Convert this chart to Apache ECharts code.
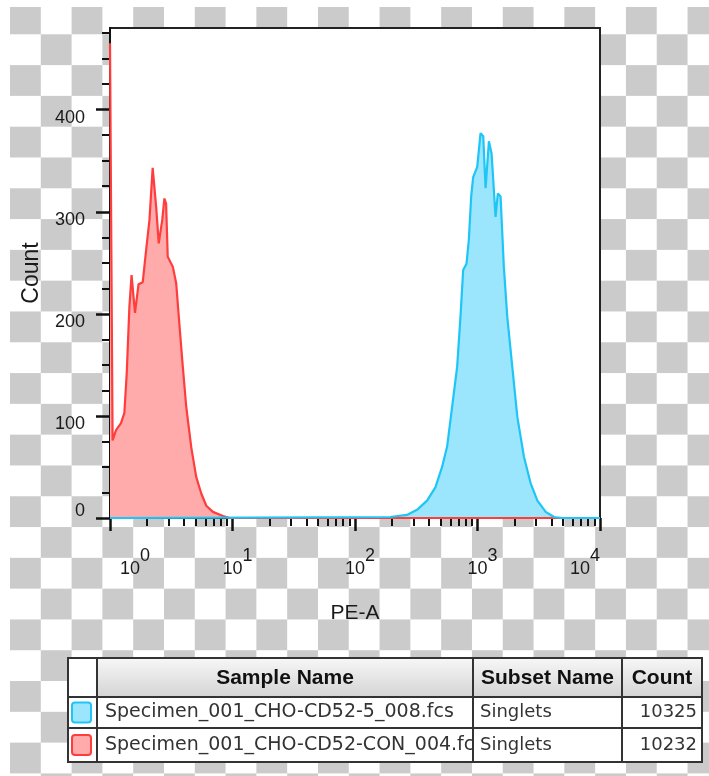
<!DOCTYPE html>
<html>
<head>
<meta charset="utf-8">
<script src="https://cdn.jsdelivr.net/npm/echarts@6/dist/echarts.min.js"></script>
<style>
  html, body { margin: 0; padding: 0; background: #fff; }
  #wrap { position: relative; width: 709px; height: 776px; overflow: hidden; background: #fff; }
  #checker {
    position: absolute; left: 10px; top: 7px; right: 0; bottom: 0;
    background: conic-gradient(#fff 0 25%, #cbcbcb 0 50%, #fff 0 75%, #cbcbcb 0 100%);
    background-size: 61.6px 61.6px;
    background-position: 0 -3.5px;
  }
  #chart { position: absolute; left: 0; top: 0; width: 709px; height: 776px; }
</style>
</head>
<body>
<div id="wrap">
  <div id="checker"></div>
  <div id="chart"></div>
</div>
<script>
// axis ticks
const xTickValues = [1, 10, 100, 1000, 10000];
const xTickExponents = ['0', '1', '2', '3', '4'];
const xMinorTicks = [2, 3, 4, 5, 6, 7, 8, 9, 20, 30, 40, 50, 60, 70, 80, 90,
  200, 300, 400, 500, 600, 700, 800, 900, 2000, 3000, 4000, 5000, 6000, 7000, 8000, 9000];
const yTickValues = [0, 100, 200, 300, 400];
const yMinorTicks = [25, 50, 75, 125, 150, 175, 225, 250, 275, 325, 350, 375, 425, 450, 475];

// histogram: CON sample (red)
const redX = [1, 1.05, 1.12, 1.23, 1.31, 1.37, 1.44, 1.50, 1.60, 1.71,
  1.85, 1.97, 2.10, 2.23, 2.38, 2.50, 2.67, 2.78, 2.87, 2.96,
  3.26, 3.47, 3.70, 3.93, 4.19, 4.61, 5.06, 5.56, 6.11, 6.92,
  8.36, 9.49, 10000];
const redCount = [465, 76, 86, 93, 103, 142, 207, 238, 201, 229,
  231, 262, 292, 343, 305, 269, 292, 313, 308, 256,
  246, 230, 187, 148, 109, 69, 40, 24, 12, 6,
  2, 0, 0];

// histogram: CD52-5 sample (cyan)
const cyanX = [1, 193.8, 265.6, 320.7, 387.4, 453, 514, 565, 621, 682,
  726, 764, 813, 849, 888, 922, 995, 1059, 1114, 1164,
  1239, 1303, 1404, 1466, 1543, 1641, 1750, 1923, 2114, 2394,
  2716, 3083, 3606, 4217, 4941, 10000];
const cyanCount = [0, 1, 3, 8, 17, 30, 50, 70, 109, 148,
  197, 243, 249, 272, 315, 334, 344, 377, 374, 323,
  369, 357, 295, 318, 315, 246, 197, 148, 99, 60,
  34, 17, 6, 1, 0, 0];

// table
const tableHeaders = ['Sample Name', 'Subset Name', 'Count'];
const sampleNames = ['Specimen_001_CHO-CD52-5_008.fcs', 'Specimen_001_CHO-CD52-CON_004.fcs'];
const subsetNames = ['Singlets', 'Singlets'];
const eventCounts = ['10325', '10232'];

const FONT = '"Liberation Sans", Arial, sans-serif';
const TABLE_FONT = '"DejaVu Sans", Verdana, sans-serif';
const INK = '#1a1a1a';
const RED_LINE = '#ff3d3d', RED_FILL = '#ffabab';
const CYAN_LINE = '#1fc5f6', CYAN_FILL = '#9be6fc';
const sampleColors = [[CYAN_FILL, CYAN_LINE], [RED_FILL, RED_LINE]];

const pairs = (xs, ys) => xs.map((x, i) => [x, ys[i]]);

const chart = echarts.init(document.getElementById('chart'), null, { renderer: 'canvas' });

// table drawn with graphic elements
const tX = 68, tY = 658, tW = 634, tH = 104;
const colX = [97, 473, 622];
const rowY = [697, 728];
const table = [];
table.push({ type: 'rect', shape: { x: tX, y: tY, width: tW, height: tH }, style: { fill: '#fff', stroke: 'none' } });
table.push({
  type: 'rect', shape: { x: colX[0], y: tY, width: tX + tW - colX[0], height: rowY[0] - tY },
  style: { fill: new echarts.graphic.LinearGradient(0, 0, 0, 1, [
    { offset: 0, color: '#f7f7f7' }, { offset: 1, color: '#d4d4d4' }]) }
});
const colRight = [colX[1], colX[2], tX + tW];
const colLeft = colX;
tableHeaders.forEach((h, i) => table.push({
  type: 'text', x: (colLeft[i] + colRight[i]) / 2, y: (tY + rowY[0]) / 2 + 1,
  style: { text: h, font: 'bold 21px ' + FONT, fill: '#111', align: 'center', verticalAlign: 'middle' }
}));
const rowTop = [rowY[0], rowY[1]];
const rowBot = [rowY[1], tY + tH];
sampleNames.forEach((name, i) => {
  const cy = (rowTop[i] + rowBot[i]) / 2;
  table.push({
    type: 'rect', shape: { x: 72, y: cy - 10, width: 19, height: 20, r: 3 },
    style: { fill: sampleColors[i][0], stroke: sampleColors[i][1], lineWidth: 2 }
  });
  table.push({
    type: 'text', x: colX[0] + 8, y: cy,
    style: { text: name, font: '19px ' + TABLE_FONT, fill: '#333', verticalAlign: 'middle',
      width: colX[1] - colX[0] - 2, overflow: 'truncate', ellipsis: '' }
  });
  table.push({
    type: 'text', x: colX[1] + 7, y: cy,
    style: { text: subsetNames[i], font: '18px ' + TABLE_FONT, fill: '#333', verticalAlign: 'middle' }
  });
  table.push({
    type: 'text', x: tX + tW - 5, y: cy,
    style: { text: eventCounts[i], font: '18px ' + TABLE_FONT, fill: '#333', align: 'right', verticalAlign: 'middle' }
  });
});
// grid lines of the table go over the cell texts, so a clipped name ends at the border
colX.forEach(x => table.push({ type: 'line', shape: { x1: x, y1: tY, x2: x, y2: tY + tH }, style: { stroke: '#333', lineWidth: 2 } }));
rowY.forEach(y => table.push({ type: 'line', shape: { x1: tX, y1: y, x2: tX + tW, y2: y }, style: { stroke: '#333', lineWidth: 2 } }));
table.push({ type: 'rect', shape: { x: tX, y: tY, width: tW, height: tH }, style: { fill: 'none', stroke: '#333', lineWidth: 2 } });

const option = {
  animation: false,
  grid: {
    left: 110, top: 28, width: 490, height: 490,
    show: true, backgroundColor: '#fff', borderColor: '#222', borderWidth: 2
  },
  xAxis: [
    {
      type: 'log', logBase: 10, min: 1, max: 10000, position: 'bottom',
      name: 'PE-A', nameLocation: 'middle', nameGap: 85,
      nameTextStyle: { fontFamily: FONT, fontSize: 21, color: INK },
      axisLine: { show: true, onZero: false, lineStyle: { color: '#111', width: 2 } },
      axisTick: { show: true, customValues: xTickValues, length: 13, lineStyle: { color: '#111', width: 2.5 } },
      minorTick: { show: false },
      splitLine: { show: false },
      axisLabel: {
        customValues: xTickValues, margin: 31,
        alignMinLabel: 'left', alignMaxLabel: 'right',
        formatter: v => {
          const i = xTickValues.findIndex(t => Math.abs(t - v) / t < 1e-6);
          return '{e|' + (i >= 0 ? xTickExponents[i] : '') + '}\n{b|10}';
        },
        rich: {
          e: { fontFamily: FONT, fontSize: 18, color: INK, lineHeight: 13.5, padding: [0, 0, 0, 30] },
          b: { fontFamily: FONT, fontSize: 18, color: INK, lineHeight: 13.5, padding: [0, 10, 0, 10] }
        }
      }
    },
    {
      type: 'log', logBase: 10, min: 1, max: 10000, position: 'bottom',
      axisLine: { show: false },
      axisTick: { show: true, customValues: xMinorTicks, length: 8, lineStyle: { color: '#111', width: 2 } },
      axisLabel: { show: false },
      splitLine: { show: false }
    }
  ],
  yAxis: [
    {
      type: 'value', min: 0, max: 480, position: 'left',
      name: 'Count', nameLocation: 'middle', nameGap: 67, nameRotate: 90,
      nameTextStyle: { fontFamily: FONT, fontSize: 23, color: INK },
      axisLine: { show: true, lineStyle: { color: '#111', width: 2 } },
      axisTick: { show: true, customValues: yTickValues, length: 14, lineStyle: { color: '#111', width: 2.5 } },
      splitLine: { show: false },
      axisLabel: {
        customValues: yTickValues, margin: 25, fontFamily: FONT, fontSize: 18, color: INK, lineHeight: 13,
        padding: [2, 0, 0, 0],
        verticalAlign: 'top', verticalAlignMinLabel: 'bottom'
      }
    },
    {
      type: 'value', min: 0, max: 480, position: 'left',
      axisLine: { show: false },
      axisTick: { show: true, customValues: yMinorTicks, length: 8, lineStyle: { color: '#111', width: 2 } },
      axisLabel: { show: false },
      splitLine: { show: false }
    }
  ],
  series: [
    { type: 'line', name: 'CON fill', data: pairs(redX, redCount), symbol: 'none', silent: true, z: 2,
      lineStyle: { width: 0, opacity: 0 }, areaStyle: { color: RED_FILL, opacity: 1 } },
    { type: 'line', name: 'CD52-5 fill', data: pairs(cyanX, cyanCount), symbol: 'none', silent: true, z: 3,
      lineStyle: { width: 0, opacity: 0 }, areaStyle: { color: CYAN_FILL, opacity: 1 } },
    { type: 'line', name: 'CON', data: pairs(redX, redCount), symbol: 'none', silent: true, z: 4,
      lineStyle: { color: RED_LINE, width: 2.2 } },
    { type: 'line', name: 'CD52-5', data: pairs(cyanX, cyanCount), symbol: 'none', silent: true, z: 5,
      lineStyle: { color: CYAN_LINE, width: 2.2 } }
  ],
  graphic: table
};

chart.setOption(option);
</script>
</body>
</html>
